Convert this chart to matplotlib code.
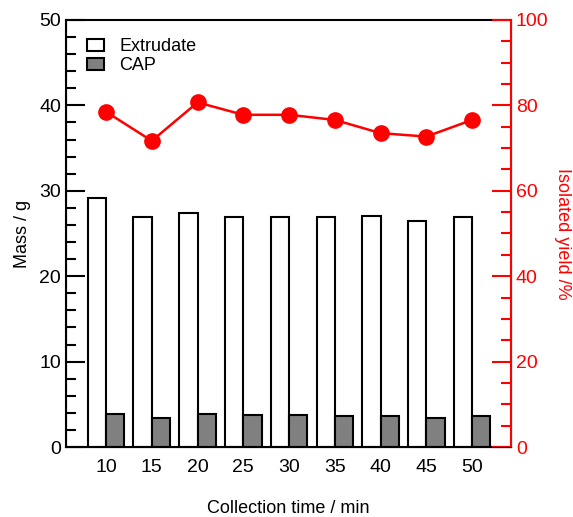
import matplotlib
matplotlib.use("Agg")
import matplotlib.pyplot as plt
import numpy as np
from matplotlib.ticker import MultipleLocator

plt.rcParams['font.family'] = ['Liberation Sans', 'DejaVu Sans']

times = ['10', '15', '20', '25', '30', '35', '40', '45', '50']
extrudate = [29.2, 26.9, 27.4, 26.9, 26.9, 26.9, 27.1, 26.5, 26.9]
cap = [3.9, 3.4, 3.9, 3.7, 3.7, 3.6, 3.6, 3.4, 3.6]
yield_pct = [78.5, 71.7, 80.7, 77.8, 77.8, 76.6, 73.5, 72.7, 76.6]

fig = plt.figure(figsize=(5.73, 5.17), dpi=100)
ax = fig.add_axes([66/573, 70/517, 445/573, 427/517])
x = np.arange(len(times))
w = 0.4
ax.bar(x - w/2, extrudate, w, color='white', edgecolor='black', linewidth=1.5, label='Extrudate', zorder=2)
ax.bar(x + w/2, cap, w, color='#808080', edgecolor='black', linewidth=1.5, label='CAP', zorder=2)
ax.set_xlim(-0.875, 8.85)
ax.set_ylim(0, 50)
ax.set_xticks(x)
ax.set_xticklabels(times)
ax.yaxis.set_major_locator(MultipleLocator(10))
ax.yaxis.set_minor_locator(MultipleLocator(2))
ax.tick_params(axis='x', length=0, labelsize=14, pad=9)
ax.tick_params(axis='y', which='major', direction='in', length=14, width=1.5, labelsize=14)
ax.tick_params(axis='y', which='minor', direction='in', length=7, width=1.5)
for s in ['left', 'bottom', 'top']:
    ax.spines[s].set_linewidth(1.5)
ax.set_ylabel('Mass / g', fontsize=13, labelpad=6)
ax.set_xlabel('Collection time / min', fontsize=13, labelpad=17)
leg = ax.legend(loc='upper left', bbox_to_anchor=(0.01, 0.995), frameon=False, fontsize=13,
                handlelength=0.95, handleheight=0.7, handletextpad=0.85, labelspacing=0.1)
for p in leg.get_patches():
    p.set_linewidth(1.5)

ax2 = ax.twinx()
ax2.plot(x, yield_pct, color='red', marker='o', markersize=11, linewidth=1.8, zorder=3)
ax2.set_ylim(0, 100)
ax2.yaxis.set_major_locator(MultipleLocator(20))
ax2.yaxis.set_minor_locator(MultipleLocator(5))
ax2.tick_params(axis='y', which='major', direction='in', length=14, width=1.5, labelsize=14, colors='red')
ax2.tick_params(axis='y', which='minor', direction='in', length=7, width=1.5, colors='red')
ax2.spines['right'].set_color('red')
ax2.spines['right'].set_linewidth(1.5)
ax2.spines['top'].set_visible(False)
ax2.set_ylabel('Isolated yield /%', fontsize=13, color='red', rotation=270, labelpad=16)

fig.savefig('out.png', dpi=100)
